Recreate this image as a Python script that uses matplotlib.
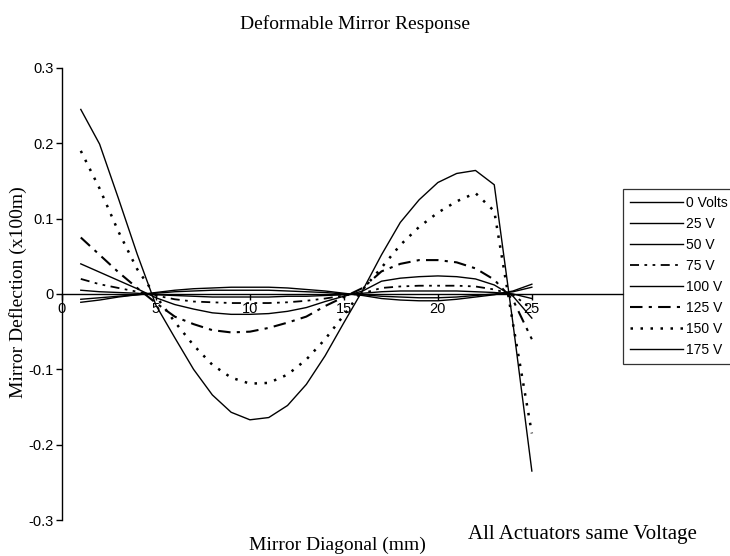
import matplotlib
matplotlib.use("Agg")
import matplotlib.pyplot as plt

# Mirror diagonal positions (mm)
x_mm = list(range(1, 26))

# Deflection readings (x100m) per actuator voltage
v0 = [-0.011, -0.008, -0.004, -0.001, 0.002, 0.005, 0.007, 0.008, 0.009, 0.009, 0.009, 0.008, 0.006,
      0.004, 0.001, -0.002, -0.006, -0.008, -0.009, -0.009, -0.007, -0.004, -0.001, 0.004, 0.013]
v25 = [-0.007, -0.005, -0.003, -0.001, 0.001, 0.003, 0.004, 0.005, 0.005, 0.005, 0.005, 0.004, 0.003,
       0.002, 0.000, -0.001, -0.003, -0.004, -0.005, -0.005, -0.004, -0.002, 0.000, 0.003, 0.009]
v50 = [0.005, 0.003, 0.002, 0.001, -0.001, -0.002, -0.003, -0.004, -0.004, -0.004, -0.004, -0.003, -0.003,
       -0.002, -0.001, 0.001, 0.003, 0.004, 0.004, 0.004, 0.004, 0.003, 0.002, 0.000, -0.006]
v75 = [0.020, 0.013, 0.008, 0.003, -0.002, -0.007, -0.010, -0.011, -0.012, -0.012, -0.012, -0.011, -0.009,
       -0.006, -0.002, 0.001, 0.008, 0.010, 0.011, 0.011, 0.011, 0.010, 0.006, -0.001, -0.020]
v100 = [0.040, 0.029, 0.018, 0.007, -0.005, -0.014, -0.020, -0.025, -0.027, -0.027, -0.026, -0.023, -0.018,
        -0.010, -0.003, 0.004, 0.017, 0.021, 0.023, 0.024, 0.023, 0.020, 0.012, -0.003, -0.032]
v125 = [0.075, 0.052, 0.029, 0.008, -0.012, -0.030, -0.040, -0.048, -0.051, -0.050, -0.045, -0.038, -0.030,
        -0.016, -0.004, 0.008, 0.030, 0.040, 0.045, 0.045, 0.042, 0.034, 0.019, -0.008, -0.060]
v150 = [0.190, 0.140, 0.083, 0.033, -0.003, -0.037, -0.068, -0.094, -0.111, -0.119, -0.118, -0.107, -0.087,
        -0.060, -0.028, 0.006, 0.035, 0.065, 0.089, 0.108, 0.123, 0.134, 0.110, -0.040, -0.185]
v175 = [0.245, 0.199, 0.127, 0.053, -0.015, -0.058, -0.100, -0.134, -0.157, -0.167, -0.164, -0.148, -0.120,
        -0.082, -0.038, 0.005, 0.052, 0.095, 0.125, 0.148, 0.160, 0.164, 0.145, -0.040, -0.235]

labels = ["0 Volts", "25 V", "50 V", "75 V", "100 V", "125 V", "150 V", "175 V"]
series = [v0, v25, v50, v75, v100, v125, v150, v175]
styles = [("-", 1.0), ("-", 1.0), ("-", 1.0), ((0, (5, 3, 1.5, 3, 1.5, 3)), 1.3),
          ("-", 1.0), ((0, (6, 3, 1.5, 3)), 1.5), ((0, (1, 3)), 1.8), ("-", 1.0)]

serif = "Liberation Serif"
sans = "Liberation Sans"

fig = plt.figure(figsize=(7.3, 5.56), dpi=100)
ax = fig.add_axes([62 / 730, 1 - 520 / 556, (623 - 62) / 730, 452 / 556])

for vals, lab, (ls, lw) in zip(series, labels, styles):
    ax.plot(x_mm, vals, color="black", linestyle=ls, linewidth=lw, label=lab)

ax.set_xlim(0, 29.85)
ax.set_ylim(-0.3, 0.3)
ax.set_xticks([0, 5, 10, 15, 20, 25])
ax.set_yticks([-0.3, -0.2, -0.1, 0, 0.1, 0.2, 0.3])
ax.set_yticklabels(["-0.3", "-0.2", "-0.1", "0", "0.1", "0.2", "0.3"])

for s in ["top", "right"]:
    ax.spines[s].set_visible(False)
ax.spines["bottom"].set_position(("data", 0))
ax.spines["bottom"].set_linewidth(1.0)
ax.spines["left"].set_linewidth(1.0)
ax.tick_params(axis="both", direction="out", length=4, width=1.0, labelsize=10.5, pad=2)
for t in ax.get_xticklabels() + ax.get_yticklabels():
    t.set_fontfamily(sans)

fig.text(355 / 730, 1 - 24 / 556, "Deformable Mirror Response", family=serif, fontsize=14,
         ha="center", va="center")
fig.text(18 / 730, 1 - 292 / 556, "Mirror Deflection (x100m)", family=serif, fontsize=14,
         rotation=90, ha="center", va="center")
fig.text(337 / 730, 1 - 545 / 556, "Mirror Diagonal (mm)", family=serif, fontsize=14,
         ha="center", va="center")
fig.text(582 / 730, 1 - 534 / 556, "All Actuators same Voltage", family=serif, fontsize=15,
         ha="center", va="center")

leg = ax.legend(loc="upper left", bbox_to_anchor=(623 / 730, 1 - 189 / 556),
                bbox_transform=fig.transFigure, frameon=True, fancybox=False,
                prop={"family": sans, "size": 10}, handlelength=3.8, handletextpad=0.2,
                labelspacing=0.5, borderpad=0.5, borderaxespad=0)
leg.get_frame().set_edgecolor("black")
leg.get_frame().set_linewidth(0.9)

fig.savefig("out.png", dpi=100)
